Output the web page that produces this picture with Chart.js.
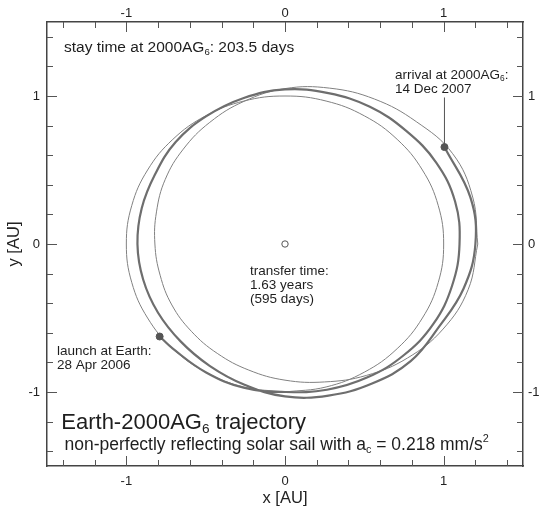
<!DOCTYPE html>
<html>
<head>
<meta charset="utf-8">
<script src="https://cdn.jsdelivr.net/npm/chart.js@4.4.1/dist/chart.umd.min.js"></script>
<style>
  html, body { margin: 0; padding: 0; background: #fff; }
  #wrap { width: 539px; height: 508px; }
</style>
</head>
<body>
<div id="wrap"><canvas id="c" width="539" height="508"></canvas></div>
<script>
// Heliocentric positions [AU]
// Earth orbit, starting at the bottom where the thick track hides the seam
const earthX = [0, 0.259, 0.5, 0.707, 0.866, 0.966, 1, 0.966, 0.866, 0.707, 0.5, 0.259, 0, -0.259, -0.5, -0.707, -0.866, -0.966, -1, -0.966, -0.866, -0.707, -0.5, -0.259, 0]
const earthY = [-1, -0.966, -0.866, -0.707, -0.5, -0.259, 0, 0.259, 0.5, 0.707, 0.866, 0.966, 1, 0.966, 0.866, 0.707, 0.5, 0.259, 0, -0.259, -0.5, -0.707, -0.866, -0.966, -1]

// 2000AG6 orbit
const asteroidX = [1.215, 1.183, 1.057, 0.827, 0.565, 0.282, 0, -0.258, -0.474, -0.641, -0.755, -0.81, -0.82, -0.787, -0.713, -0.59, -0.427, -0.228, 0, 0.25, 0.513, 0.771, 0.996, 1.154, 1.215]
const asteroidY = [0, 0.317, 0.61, 0.827, 0.979, 1.053, 1.05, 0.964, 0.822, 0.641, 0.436, 0.217, 0, -0.211, -0.412, -0.59, -0.739, -0.852, -0.92, -0.932, -0.888, -0.771, -0.575, -0.309, 0]

// solar sail transfer, launch -> arrival
const transferX = [-0.79, -0.707, -0.5, -0.26, 0, 0.264, 0.52, 0.75, 0.935, 1.053, 1.10, 1.072, 0.953, 0.764, 0.535, 0.273, 0, -0.264, -0.498, -0.689, -0.818, -0.903, -0.93, -0.894, -0.801, -0.658, -0.475, -0.255, 0, 0.274, 0.545, 0.792, 0.97, 1.125, 1.20, 1.169, 1.005]
const transferY = [-0.625, -0.707, -0.866, -0.971, -1.0, -0.985, -0.901, -0.75, -0.54, -0.282, 0, 0.287, 0.55, 0.764, 0.927, 1.019, 1.045, 0.985, 0.862, 0.689, 0.473, 0.242, 0, -0.24, -0.463, -0.658, -0.823, -0.951, -1.03, -1.024, -0.944, -0.792, -0.56, -0.302, 0, 0.313, 0.655]

const sun = [0, 0]
const launch = [-0.79, -0.625]
const arrival = [1.005, 0.655]
const arrivalLeaderTop = 0.99

const majorTicks = [-1, 0, 1]
const minorTicks = [-1.4, -1.2, -0.8, -0.6, -0.4, -0.2, 0.2, 0.4, 0.6, 0.8, 1.2, 1.4]

const FONT = '"Liberation Sans", Arial, Helvetica, sans-serif'
const pts = (xs, ys) => xs.map((x, i) => ({ x, y: ys[i] }))

// text blocks: [text, 'sub' | 'sup'] pieces, anchored at left / middle in data coords
const notes = [
  { x: -1.393, y: 1.324, size: 15.5, parts: [['stay time at 2000AG'], ['6', 'sub'], [': 203.5 days']] },
  { x: 0.693, y: 1.142, size: 13.5, parts: [['arrival at 2000AG'], ['6', 'sub'], [':']] },
  { x: 0.693, y: 1.045, size: 13.5, parts: [['14 Dec 2007']] },
  { x: -0.22, y: -0.182, size: 13.5, parts: [['transfer time:']] },
  { x: -0.22, y: -0.277, size: 13.5, parts: [['1.63 years']] },
  { x: -0.22, y: -0.372, size: 13.5, parts: [['(595 days)']] },
  { x: -1.437, y: -0.723, size: 13.5, parts: [['launch at Earth:']] },
  { x: -1.437, y: -0.818, size: 13.5, parts: [['28 Apr 2006']] },
  { x: -1.41, y: -1.209, size: 22, parts: [['Earth-2000AG'], ['6', 'sub'], [' trajectory']] },
  { x: -1.39, y: -1.358, size: 17.5, parts: [['non-perfectly reflecting solar sail with a'], ['c', 'sub'], [' = 0.218 mm/s'], ['2', 'sup']] }
]

function drawRich(ctx, parts, x, y, size) {
  let cx = x
  parts.forEach(([t, kind]) => {
    const s = kind ? size * 0.62 : size
    ctx.font = `${s}px ${FONT}`
    const dy = kind === 'sub' ? size * 0.3 : kind === 'sup' ? -size * 0.36 : 0
    ctx.fillText(t, cx, y + dy)
    cx += ctx.measureText(t).width
  })
}

// inward tick marks on all four sides plus the text annotations
const framePlugin = {
  id: 'frame',
  afterDraw(chart) {
    const { ctx, chartArea: a, scales } = chart
    ctx.save()
    ctx.strokeStyle = '#555'
    ctx.lineWidth = 1
    const marks = majorTicks.map(v => [v, 10]).concat(minorTicks.map(v => [v, 6]))
    marks.forEach(([v, len]) => {
      const px = Math.round(scales.x.getPixelForValue(v)) + 0.5
      const py = Math.round(scales.y.getPixelForValue(v)) + 0.5
      ctx.beginPath()
      ctx.moveTo(px, a.bottom); ctx.lineTo(px, a.bottom - len)
      ctx.moveTo(px, a.top); ctx.lineTo(px, a.top + len)
      ctx.moveTo(a.left, py); ctx.lineTo(a.left + len, py)
      ctx.moveTo(a.right, py); ctx.lineTo(a.right - len, py)
      ctx.stroke()
    })
    ctx.fillStyle = '#1e1e1e'
    ctx.textBaseline = 'middle'
    ctx.textAlign = 'left'
    notes.forEach(n => drawRich(ctx, n.parts, scales.x.getPixelForValue(n.x), scales.y.getPixelForValue(n.y), n.size))
    ctx.restore()
  }
}

const useTicks = scale => { scale.ticks = majorTicks.map(v => ({ value: v })) }
const tickFont = { family: FONT, size: 13 }
const border = { display: true, color: '#444', width: 1.5 }
const grid = { drawOnChartArea: false, drawTicks: false }

new Chart(document.getElementById('c'), {
  type: 'scatter',
  data: {
    datasets: [
      {
        data: [{ x: launch[0], y: launch[1] }, { x: arrival[0], y: arrival[1] }],
        pointRadius: 3.5, backgroundColor: '#555', borderColor: '#555', borderWidth: 1
      },
      {
        data: [{ x: sun[0], y: sun[1] }],
        pointRadius: 3.2, backgroundColor: '#fff', borderColor: '#555', borderWidth: 1
      },
      {
        data: [{ x: arrival[0], y: arrival[1] }, { x: arrival[0], y: arrivalLeaderTop }],
        showLine: true, pointRadius: 0, borderColor: '#555', borderWidth: 1
      },
      {
        data: pts(transferX, transferY),
        showLine: true, pointRadius: 0, tension: 0.4, borderColor: '#6e6e6e', borderWidth: 2.2
      },
      {
        data: pts(asteroidX, asteroidY),
        showLine: true, pointRadius: 0, tension: 0.4, borderColor: '#818181', borderWidth: 1
      },
      {
        data: pts(earthX, earthY),
        showLine: true, pointRadius: 0, tension: 0.4, borderColor: '#818181', borderWidth: 1
      }
    ]
  },
  options: {
    responsive: false,
    animation: false,
    devicePixelRatio: 1,
    layout: { padding: 0 },
    plugins: { legend: { display: false }, tooltip: { enabled: false } },
    scales: {
      x: {
        type: 'linear', position: 'bottom', min: -1.5, max: 1.5,
        afterBuildTicks: useTicks, afterFit: s => { s.height = 42 },
        ticks: { color: '#222', font: tickFont, padding: 7.5, autoSkip: false, maxRotation: 0 },
        grid, border,
        title: { display: true, text: 'x [AU]', color: '#222', font: { family: FONT, size: 16.5 }, padding: { top: 0, bottom: 0 } }
      },
      x2: {
        type: 'linear', axis: 'x', position: 'top', min: -1.5, max: 1.5,
        afterBuildTicks: useTicks, afterFit: s => { s.height = 22 },
        ticks: { color: '#222', font: tickFont, padding: 0.5, autoSkip: false, maxRotation: 0 },
        grid, border
      },
      y: {
        type: 'linear', position: 'left', min: -1.5, max: 1.5,
        afterBuildTicks: useTicks, afterFit: s => { s.width = 47 },
        ticks: { color: '#222', font: tickFont, padding: 7, autoSkip: false },
        grid, border,
        title: { display: true, text: 'y [AU]', color: '#222', font: { family: FONT, size: 16.5 }, padding: { top: 5, bottom: 0 } }
      },
      y2: {
        type: 'linear', axis: 'y', position: 'right', min: -1.5, max: 1.5,
        afterBuildTicks: useTicks, afterFit: s => { s.width = 16 },
        ticks: { color: '#222', font: tickFont, padding: 5, autoSkip: false },
        grid, border
      }
    }
  },
  plugins: [framePlugin]
})
</script>
</body>
</html>
